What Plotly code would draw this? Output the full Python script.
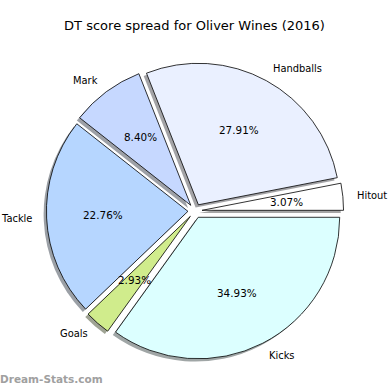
import numpy as np
import plotly.graph_objects as go

# ---- data (counter-clockwise order, starting at 3 o'clock) ----
labels = ["Hitout", "Handballs", "Mark", "Tackle", "Goals", "Kicks"]
values = [3.07, 27.91, 8.40, 22.76, 2.93, 34.93]
colors = ["#ffffff", "#eaf0ff", "#c6d8ff", "#b6d6ff", "#d0ec8c", "#dcffff"]
explode = [0.05, 0.05, 0.05, 0.05, 0.05, 0.05]
title_text = "DT score spread for Oliver Wines (2016)"
watermark = "Dream-Stats.com"

# ---- geometry (pixels) ----
W = H = 390
cx, cy, r = 195.0, 211.0, 141.5
maxpull = max(explode)
half = r * (1 + maxpull)
dom_x = [(cx - half) / W, (cx + half) / W]
dom_y = [1 - (cy + half) / H, 1 - (cy - half) / H]
sh = 2.8  # shadow offset px (left, down)


def hex2rgb(h):
    h = h.lstrip("#")
    return [int(h[i:i + 2], 16) / 255 for i in (0, 2, 4)]


shadow_colors = []
for c in colors:
    rgb = [0.15 * v + 0.5 for v in hex2rgb(c)]
    shadow_colors.append("rgb(%d,%d,%d)" % tuple(int(round(v * 255)) for v in rgb))

# plotly: draw clockwise from 3 o'clock with reversed order == CCW from 3 o'clock
rev = slice(None, None, -1)

fig = go.Figure()
fig.add_trace(go.Pie(
    labels=labels[rev], values=values[rev], sort=False, direction="clockwise",
    rotation=90, pull=explode[rev], textinfo="none", hoverinfo="skip",
    marker=dict(colors=shadow_colors[rev], line=dict(width=0)),
    domain=dict(x=[dom_x[0] - sh / W, dom_x[1] - sh / W],
                y=[dom_y[0] - sh / H, dom_y[1] - sh / H]),
    showlegend=False,
))
fig.add_trace(go.Pie(
    labels=labels[rev], values=values[rev], sort=False, direction="clockwise",
    rotation=90, pull=explode[rev], textinfo="none",
    marker=dict(colors=colors[rev], line=dict(color="black", width=0.8)),
    domain=dict(x=dom_x, y=dom_y),
    showlegend=False,
))

# label & percentage annotations (matplotlib-style positions)
vals = np.array(values)
frac = vals / vals.sum()
ends = np.cumsum(frac) * 360
starts = ends - frac * 360
mids = np.deg2rad((starts + ends) / 2)
annotations = []
for lab, v, th, p in zip(labels, frac, mids, explode):
    c, s = np.cos(th), np.sin(th)
    lx = cx + (p + 1.1) * r * c
    ly = cy - (p + 1.1) * r * s
    annotations.append(dict(
        x=lx / W, y=1 - ly / H, xref="paper", yref="paper", text=lab,
        showarrow=False, xanchor="left" if c > 0 else "right", yanchor="middle",
        borderpad=0, borderwidth=0,
        font=dict(family="DejaVu Sans", size=9.9, color="black")))
    px_ = cx + (p + 0.6) * r * c
    py_ = cy - (p + 0.6) * r * s
    annotations.append(dict(
        x=px_ / W, y=1 - py_ / H, xref="paper", yref="paper",
        text="%.2f%%" % (v * 100), showarrow=False,
        xanchor="center", yanchor="middle",
        font=dict(family="DejaVu Sans", size=10.4, color="black")))

annotations.append(dict(
    x=0, y=1 - 379 / H, xref="paper", yref="paper", text="<b>" + watermark + "</b>",
    showarrow=False, xanchor="left", yanchor="middle", borderpad=0, borderwidth=0,
    font=dict(family="DejaVu Sans", size=10.5, color="#a0a0a0")))

fig.update_layout(
    width=W, height=H, margin=dict(l=0, r=0, t=0, b=0),
    paper_bgcolor="white", plot_bgcolor="white",
    title=dict(text=title_text, x=194.5 / W, xanchor="center",
               y=1 - 25 / H, yanchor="middle", yref="container",
               font=dict(family="DejaVu Sans", size=13, color="black")),
    annotations=annotations,
)

fig.write_html("out.html")
